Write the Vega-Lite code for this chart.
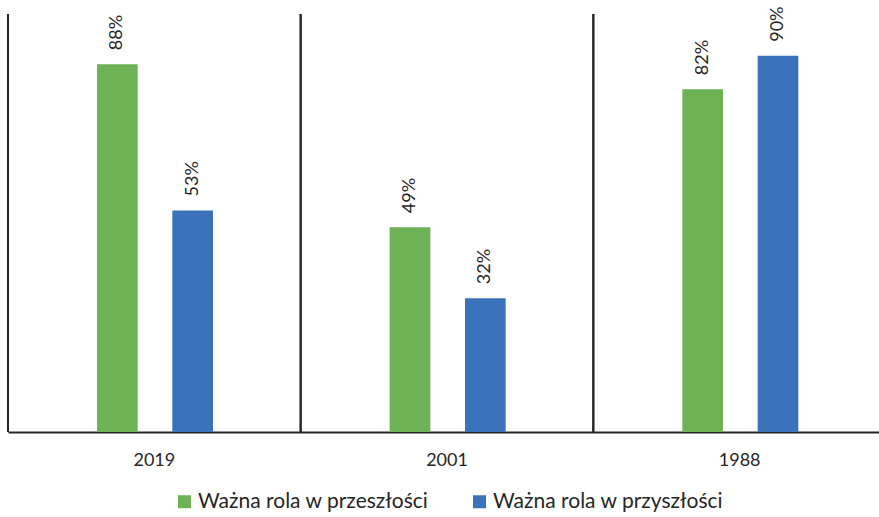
{
  "$schema": "https://vega.github.io/schema/vega-lite/v6.json",
  "width": 871,
  "height": 418,
  "autosize": {"type": "none"},
  "padding": {"left": 8, "top": 14, "right": 0, "bottom": 85},
  "background": "white",
  "config": {
    "view": {"stroke": null},
    "font": "Lato",
    "text": {"font": "Lato"}
  },
  "data": {
    "values": [
      {"year": "2019", "series": "Ważna rola w przeszłości", "value": 0.88},
      {"year": "2019", "series": "Ważna rola w przyszłości", "value": 0.53},
      {"year": "2001", "series": "Ważna rola w przeszłości", "value": 0.49},
      {"year": "2001", "series": "Ważna rola w przyszłości", "value": 0.32},
      {"year": "1988", "series": "Ważna rola w przeszłości", "value": 0.82},
      {"year": "1988", "series": "Ważna rola w przyszłości", "value": 0.90}
    ]
  },
  "encoding": {
    "x": {
      "field": "year",
      "type": "nominal",
      "sort": ["2019", "2001", "1988"],
      "scale": {"range": [0, 878], "paddingInner": 0, "paddingOuter": 0},
      "axis": {
        "title": null,
        "labelAngle": 0,
        "ticks": false,
        "domainColor": "#262626",
        "domainWidth": 2,
        "labelFont": "Lato",
        "labelFontSize": 18,
        "labelColor": "#262626",
        "labelPadding": 19,
        "labelDx": -8
      }
    }
  },
  "layer": [
    {
      "mark": {"type": "bar"},
      "encoding": {
        "xOffset": {
          "field": "series",
          "type": "nominal",
          "scale": {"range": [89, 205], "paddingInner": 0.46, "paddingOuter": 0}
        },
        "y": {
          "field": "value",
          "type": "quantitative",
          "scale": {"domain": [0, 1], "nice": false},
          "axis": null
        },
        "color": {
          "field": "series",
          "type": "nominal",
          "scale": {
            "domain": ["Ważna rola w przeszłości", "Ważna rola w przyszłości"],
            "range": ["#6DB255", "#3B73BB"]
          },
          "legend": {
            "title": null,
            "orient": "none",
            "direction": "horizontal",
            "legendX": 166,
            "legendY": 477,
            "symbolType": "square",
            "symbolSize": 169,
            "symbolStrokeWidth": 0,
            "symbolOpacity": 1,
            "labelFont": "Lato",
            "labelFontSize": 21,
            "labelColor": "#262626",
            "labelOffset": 3,
            "labelLimit": 0,
            "columnPadding": 40,
            "padding": 0
          }
        }
      }
    },
    {
      "mark": {
        "type": "text",
        "angle": 270,
        "align": "left",
        "baseline": "middle",
        "dx": 14,
        "font": "Lato",
        "fontSize": 18,
        "color": "#262626"
      },
      "encoding": {
        "xOffset": {
          "field": "series",
          "type": "nominal",
          "scale": {"range": [89, 205], "paddingInner": 0.46, "paddingOuter": 0}
        },
        "y": {"field": "value", "type": "quantitative"},
        "text": {"field": "value", "type": "quantitative", "format": ".0%"}
      }
    },
    {
      "mark": {"type": "rule", "color": "#262626", "strokeWidth": 2},
      "encoding": {
        "x": {"field": "year", "type": "nominal", "sort": ["2019", "2001", "1988"], "bandPosition": 0},
        "y": {"datum": 1, "type": "quantitative"},
        "y2": {"datum": 0}
      }
    }
  ]
}
